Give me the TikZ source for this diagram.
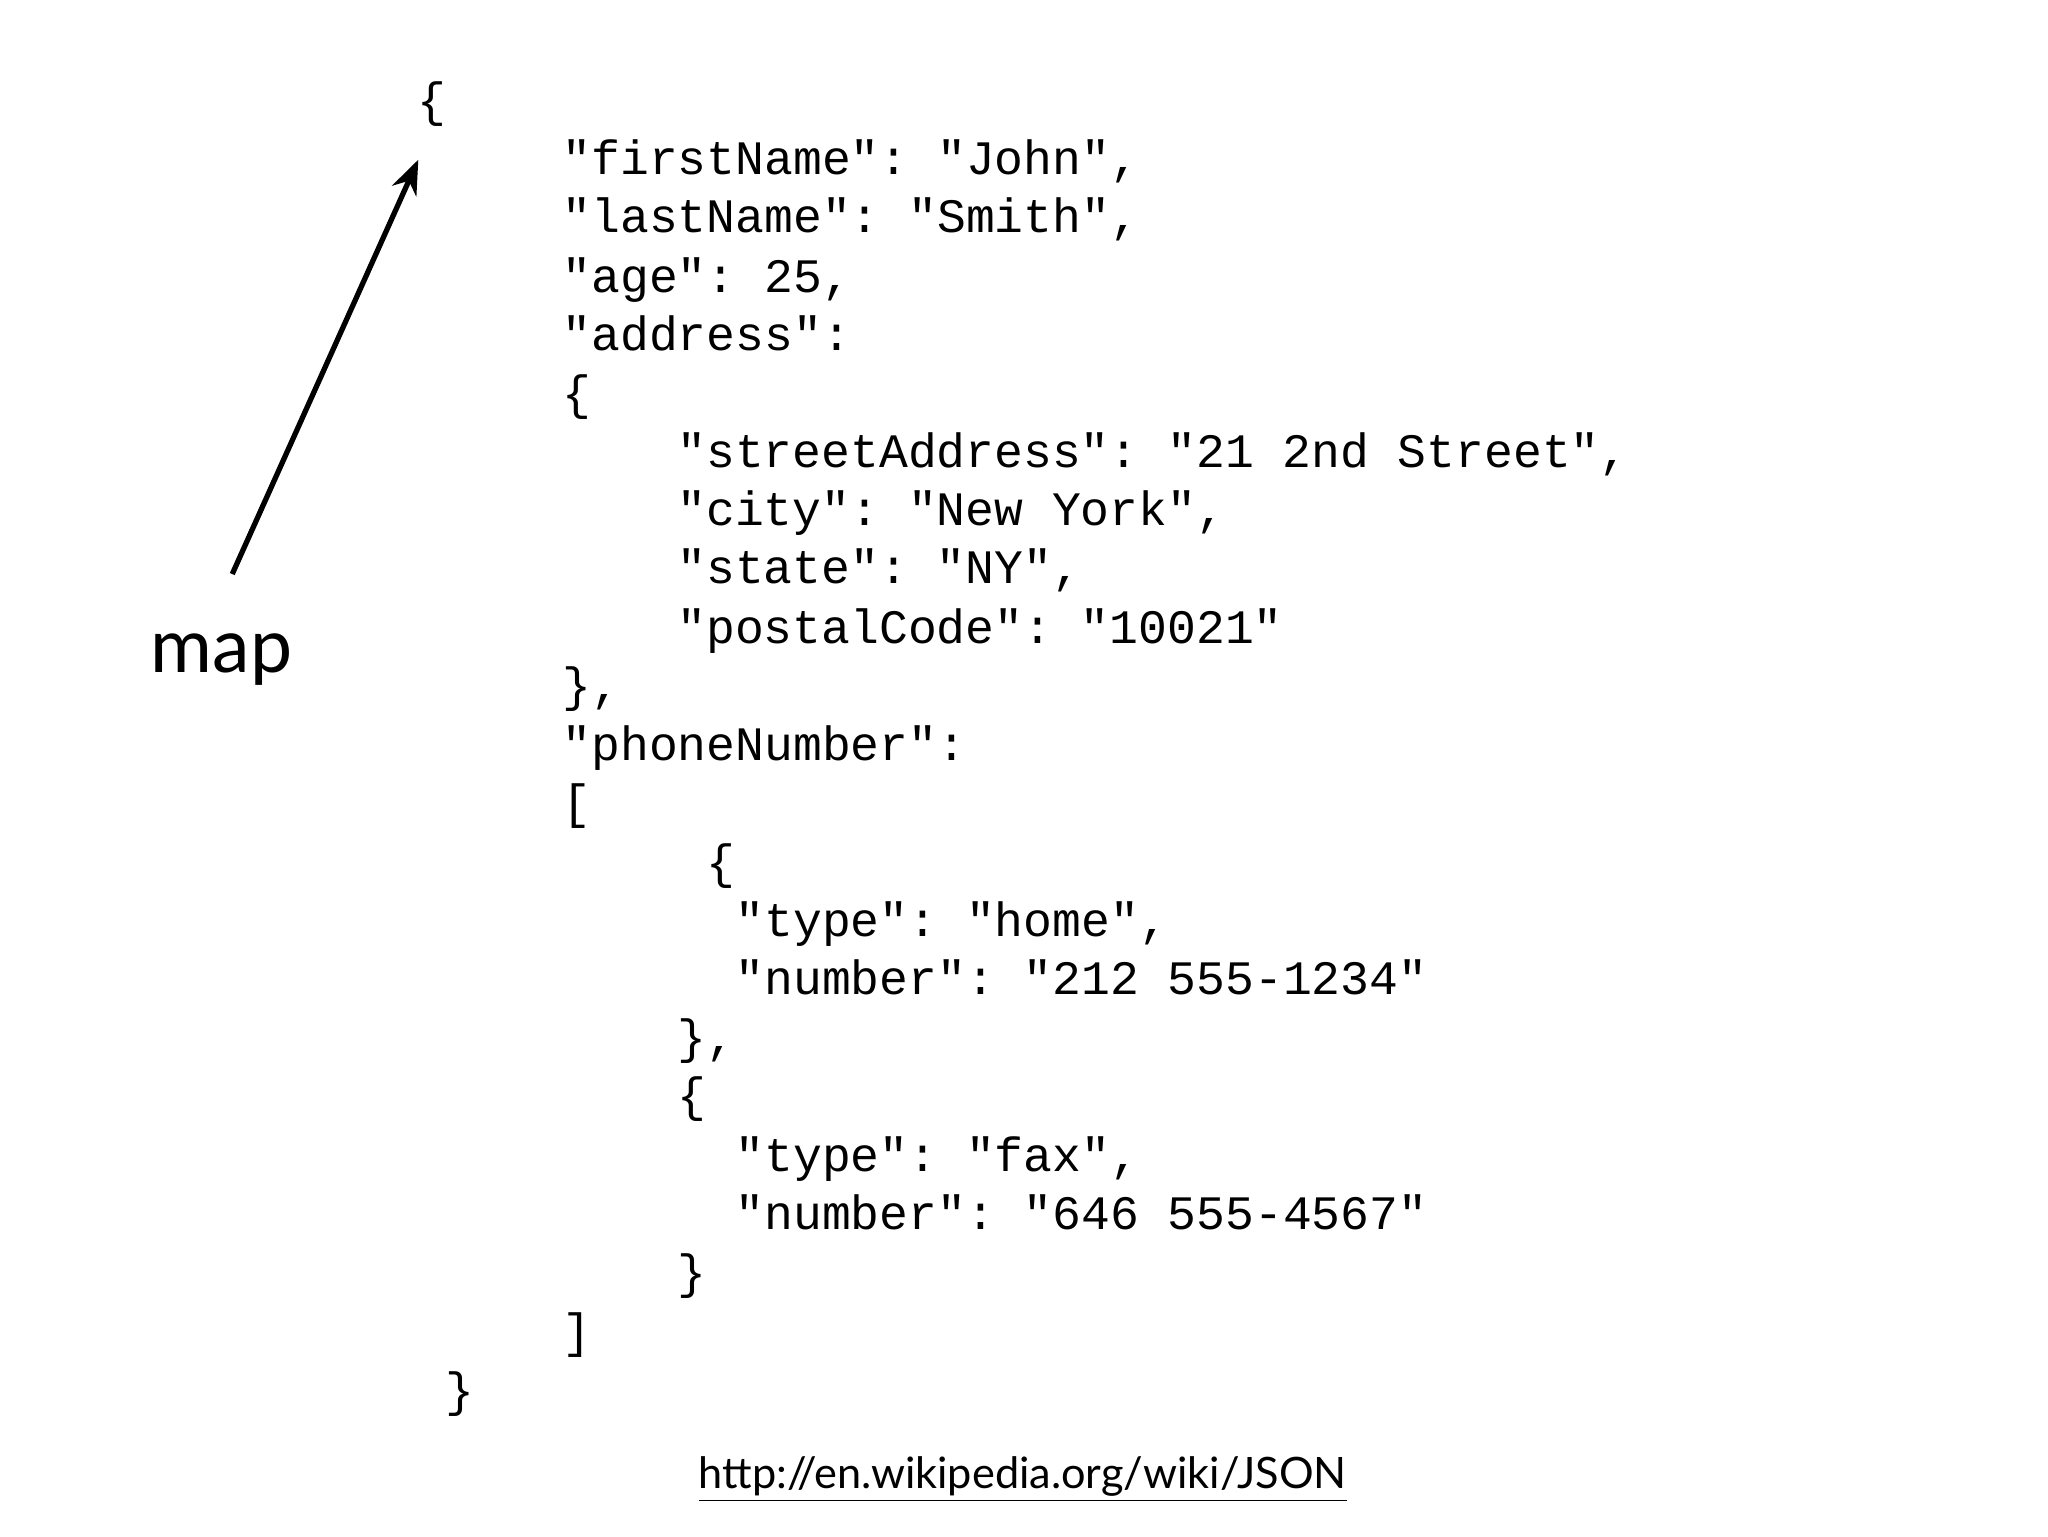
\documentclass[tikz,border=0pt]{standalone}
\usepackage{fontspec}
\usetikzlibrary{arrows.meta}
\setmonofont{Liberation Mono}
\newfontfamily\gill{Lato}
\begin{document}
\begin{tikzpicture}[x=0.5pt,y=-0.5pt,
  code/.style={anchor=base west,inner sep=0pt,font=\fontsize{18.2pt}{20pt}\ttfamily},
  lbl/.style={inner sep=0pt,font=\gill}]
\useasboundingbox (0,0) rectangle (1552,1164);
\foreach \x/\y/\t [count=\i] in {
 322/80/{\{},
 432/124/{"firstName": "John",},
 432/168/{"lastName": "Smith",},
 432/213/{"age": 25,},
 432/257/{"address":},
 432/302/{\{},
 519/346/{"streetAddress": "21 2nd Street",},
 519/390/{"city": "New York",},
 519/434/{"state": "NY",},
 519/479/{"postalCode": "10021"},
 432/523/{\},},
 432/568/{"phoneNumber":},
 432/612/{[},
 541/657/{\{},
 563/701/{"type": "home",},
 563/745/{"number": "212 555-1234"},
 519/790/{\},},
 519/834/{\{},
 563/879/{"type": "fax",},
 563/923/{"number": "646 555-4567"},
 519/968/{\}},
 432/1013/{]},
 343/1057/{\}}}
 {\node[code] (l\i) at (\x-6,\y+8.5) {\t};}
\node[lbl,font=\fontsize{28.5pt}{30pt}\gill] (map) at (168,500) {map};
\coordinate (a0) at (176,435);
\coordinate (a1) at (317,121);
\draw[line width=2pt,-{Stealth[length=13pt,width=10pt]}] (a0) -- (a1);
\node[lbl,font=\fontsize{16.4pt}{20pt}\gill] (url) at (775,1121) {\underline{http://en.wikipedia.org/wiki/JSON}};
\end{tikzpicture}
\end{document}
